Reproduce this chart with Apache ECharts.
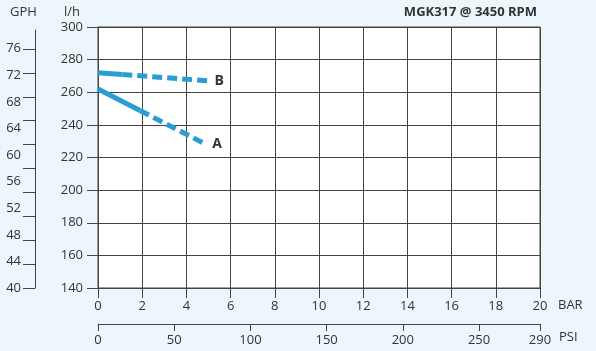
<!DOCTYPE html>
<html><head><meta charset="utf-8">
<script src="https://cdn.jsdelivr.net/npm/echarts@6/dist/echarts.min.js"></script>
<style>html,body{margin:0;padding:0;background:#edf6fb}#c{width:596px;height:351px}</style>
</head><body><div id="c"></div>
<script>
// ---- data ----
const barRange = [0, 20];
const flowRange = [140, 300];
const psiLabels = [0, 50, 100, 150, 200, 250, 290];
const gphLabels = [40, 44, 48, 52, 56, 60, 64, 68, 72, 76];
const gphTickCount = 11;          // the original's GPH ticks do not line up with its labels
const seriesA_solid  = [[0, 262], [1.9, 248.8]];
const seriesA_dashed = [[1.9, 248.8], [4.9, 228]];
const seriesB_solid  = [[0, 272], [1.1, 270.9]];
const seriesB_dashed = [[1.1, 270.9], [5.0, 267]];

// ---- chart ----
const FONT = 'Open Sans';
const TXT = '#333';
const LINE = '#444';
const BLUE = '#2a9dd2';
const gphMax = 78.8;
const gphTickStep = 3.594;
const gphTicks = [];
for (let k = 0; k < gphTickCount; k++) gphTicks.push(+(40 + k * gphTickStep).toFixed(3));

const chart = echarts.init(document.getElementById('c'), null, {renderer: 'canvas'});
const lineSeries = (data, dashed, label) => ({
  type: 'line', xAxisIndex: 0, yAxisIndex: 0, data, showSymbol: false, symbol: 'none',
  lineStyle: {color: BLUE, width: 5, type: dashed ? [10, 5] : 'solid', cap: 'butt'},
  endLabel: label ? {show: true, distance: 6, fontFamily: FONT, fontSize: 14, fontWeight: 'bold', color: TXT, formatter: label} : {show: false},
  silent: true, z: 5
});

chart.setOption({
  animation: false,
  backgroundColor: '#edf6fb',
  grid: [
    {left: 98, right: 56, top: 27, bottom: 63, show: true, backgroundColor: '#fff', borderColor: LINE, borderWidth: 1},
    {left: 35, width: 1, top: 30, bottom: 63, show: false}
  ],
  xAxis: [
    {type: 'value', gridIndex: 0, min: barRange[0], max: barRange[1], interval: 2, position: 'bottom',
      axisLine: {show: true, lineStyle: {color: LINE}},
      axisTick: {show: true, length: 10, lineStyle: {color: LINE}},
      axisLabel: {fontFamily: FONT, fontSize: 13, color: TXT, margin: 12},
      splitLine: {show: true, lineStyle: {color: LINE}}},
    {type: 'value', gridIndex: 0, min: 0, max: 290, position: 'bottom', offset: 36,
      axisLine: {show: true, onZero: false, lineStyle: {color: LINE}},
      axisTick: {show: true, length: 7, customValues: psiLabels, lineStyle: {color: LINE}},
      axisLabel: {fontFamily: FONT, fontSize: 13, color: TXT, margin: 10, customValues: psiLabels},
      splitLine: {show: false}},
    {type: 'value', gridIndex: 1, min: 0, max: 1, show: false}
  ],
  yAxis: [
    {type: 'value', gridIndex: 0, min: flowRange[0], max: flowRange[1], interval: 20,
      axisLine: {show: true, lineStyle: {color: LINE}},
      axisTick: {show: true, length: 11, lineStyle: {color: LINE}},
      axisLabel: {fontFamily: FONT, fontSize: 13, color: TXT, margin: 15},
      splitLine: {show: true, lineStyle: {color: LINE}}},
    {type: 'value', gridIndex: 1, min: 40, max: gphMax,
      axisLine: {show: true, lineStyle: {color: LINE}},
      axisTick: {show: true, length: 12, customValues: gphTicks, lineStyle: {color: LINE}},
      axisLabel: {fontFamily: FONT, fontSize: 13, color: TXT, margin: 14, customValues: gphLabels},
      splitLine: {show: false}}
  ],
  graphic: [
    {type: 'text', left: 10, top: 6, style: {text: 'GPH', fontFamily: FONT, fontSize: 13, fill: TXT}},
    {type: 'text', left: 64, top: 6, style: {text: 'l/h', fontFamily: FONT, fontSize: 13, fill: TXT}},
    {type: 'text', right: 59, top: 6, style: {text: 'MGK317 @ 3450 RPM', fontFamily: FONT, fontSize: 13, fontWeight: 'bold', fill: TXT}},
    {type: 'text', left: 558, top: 299, style: {text: 'BAR', fontFamily: FONT, fontSize: 13, fill: TXT}},
    {type: 'text', left: 559, top: 331, style: {text: 'PSI', fontFamily: FONT, fontSize: 13, fill: TXT}}
  ],
  series: [
    lineSeries(seriesA_solid, false),
    lineSeries(seriesA_dashed, true, 'A'),
    lineSeries(seriesB_solid, false),
    lineSeries(seriesB_dashed, true, 'B')
  ]
});
</script></body></html>
